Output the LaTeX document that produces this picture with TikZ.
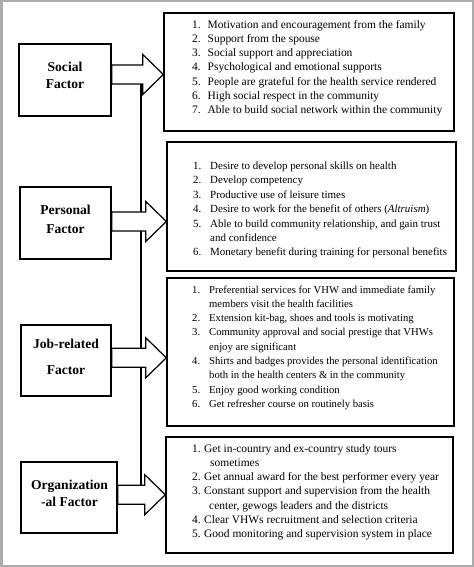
\documentclass[tikz,border=0pt]{standalone}
\usepackage{fontspec}
\setmainfont{Liberation Serif}
\usetikzlibrary{calc}
\definecolor{framegray}{RGB}{172,172,172}
\tikzset{
  factorbox/.style={draw, line width=1.4bp, inner sep=0pt, fill=white},
  listbox/.style={draw, line width=1.4bp, inner sep=0pt},
  factorlabel/.style={font=\fontsize{13.6}{#1}\selectfont\bfseries, align=center, inner sep=0pt},
  listtext/.style 2 args={anchor=north west, inner sep=0pt, font=\fontsize{#1}{#2}\selectfont},
  blockarrow/.style={draw, fill=white, line width=1.2bp, line join=miter},
  spine/.style={draw, line width=1.2bp}
}
\newcommand{\blockarr}[2]{% #1 = start (box east level), #2 = tip
  \filldraw[blockarrow] ($(#1)+(0,-9.5)$) -- ($(#2)+(-20.5,-9.5)$) -- ($(#2)+(-20.5,-20)$) -- (#2)
    -- ($(#2)+(-20.5,20)$) -- ($(#2)+(-20.5,9.5)$) -- ($(#1)+(0,9.5)$) -- cycle;
}
\begin{document}
\begin{tikzpicture}[x=1bp,y=-1bp]
\useasboundingbox (0,0) rectangle (474,567);
\draw[framegray, line width=2.5bp] (1.25,1.25) rectangle (472.75,565.75);

% right list boxes
\node[listbox, minimum width=290bp, minimum height=118bp] (b1) at (309,72) {};
\node[listbox, minimum width=289bp, minimum height=129bp] (b2) at (311.5,206.5) {};
\node[listbox, minimum width=287bp, minimum height=148bp] (b3) at (310.5,352) {};
\node[listbox, minimum width=287bp, minimum height=116bp] (b4) at (309.5,495) {};

% arrow tips
\coordinate (t1) at (b1.west |- 0,74.5);
\coordinate (t2) at (b2.west |- 0,221.5);
\coordinate (t3) at (b3.west |- 0,357.8);
\coordinate (t4) at (b4.west |- 0,494.7);

% left factor boxes
\node[factorbox, minimum width=92bp, minimum height=72bp] (soc) at (65,80) {};
\node[factorbox, minimum width=91bp, minimum height=72bp] (per) at (65.5,223) {};
\node[factorbox, minimum width=90bp, minimum height=71bp] (job) at (66,360.5) {};
\node[factorbox, minimum width=96bp, minimum height=71bp] (org) at (69,497.5) {};

\node[factorlabel=17bp] (socl) at (65,75.5) {Social\\Factor};
\node[factorlabel=19bp] (perl) at (65.5,219.5) {Personal\\Factor};
\node[factorlabel=26bp] (jobl) at (66,357) {Job-related\\Factor};
\node[factorlabel=17bp] (orgl) at (69.5,493.5) {Organization\\-al Factor};

% spine line
\coordinate (sp1) at (141,84);
\coordinate (sp2) at (141,486);
\draw[spine] (sp1) -- (sp2);

% block arrows
\coordinate (s1) at (soc.east |- t1);
\coordinate (s2) at (per.east |- t2);
\coordinate (s3) at (job.east |- t3);
\coordinate (s4) at (org.east |- t4);
\blockarr{s1}{t1}
\blockarr{s2}{t2}
\blockarr{s3}{t3}
\blockarr{s4}{t4}

% list texts
\node[listtext={11.5}{14.3bp}] (l1) at (192,17.8) {\begin{tabular}{@{}l@{\hspace{6.9bp}}l@{}}
1. & Motivation and encouragement from the family\\
2. & Support from the spouse\\
3. & Social support and appreciation\\
4. & Psychological and emotional supports\\
5. & People are grateful for the health service rendered\\
6. & High social respect in the community\\
7. & Able to build social network within the community
\end{tabular}};

\node[listtext={11.0}{14.4bp}] (l2) at (193,159.2) {\begin{tabular}{@{}l@{\hspace{8.8bp}}l@{}}
1. & Desire to develop personal skills on health\\
2. & Develop competency\\
3. & Productive use of leisure times\\
4. & Desire to work for the benefit of others (\textit{Altruism})\\
5. & Able to build community relationship, and gain trust\\
   & and confidence\\
6. & Monetary benefit during training for personal benefits
\end{tabular}};

\node[listtext={10.7}{14.3bp}] (l3) at (192,282.8) {\begin{tabular}{@{}l@{\hspace{9bp}}l@{}}
1. & Preferential services for VHW and immediate family\\
   & members visit the health facilities\\
2. & Extension kit-bag, shoes and tools is motivating\\
3. & Community approval and social prestige that VHWs\\
   & enjoy are significant\\
4. & Shirts and badges provides the personal identification\\
   & both in the health centers \& in the community\\
5. & Enjoy good working condition\\
6. & Get refresher course on routinely basis
\end{tabular}};

\node[listtext={11.5}{14.3bp}] (l4) at (192,441.8) {\begin{tabular}{@{}l@{\hspace{3.4bp}}l@{}}
1. & Get in-country and ex-country study tours\\
   & \hspace{6bp}sometimes\\
2. & Get annual award for the best performer every year\\
3. & Constant support and supervision from the health\\
   & \hspace{5bp}center, gewogs leaders and the districts\\
4. & Clear VHWs recruitment and selection criteria\\
5. & Good monitoring and supervision system in place
\end{tabular}};
\end{tikzpicture}
\end{document}
